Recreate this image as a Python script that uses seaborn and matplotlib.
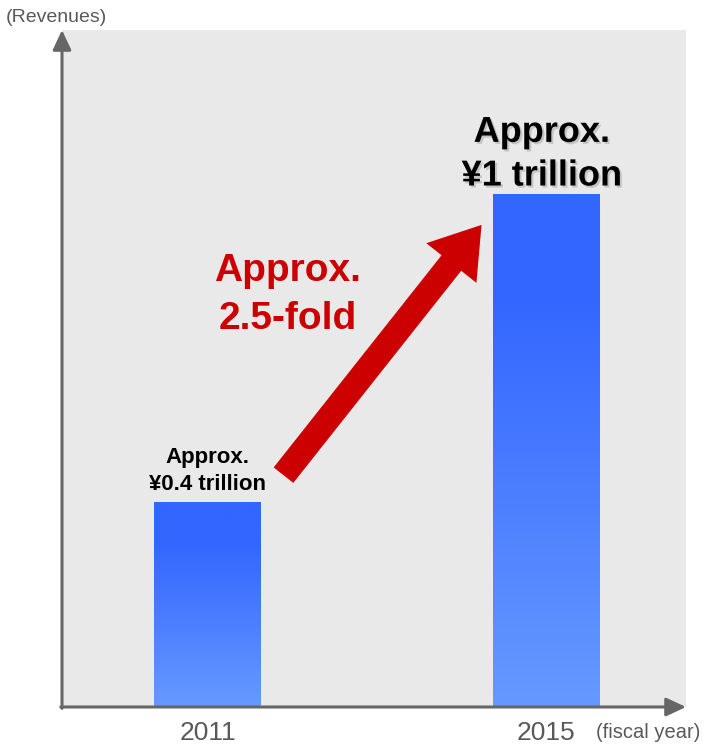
import numpy as np
import pandas as pd
import matplotlib
matplotlib.use("Agg")
import matplotlib.pyplot as plt
import matplotlib.patheffects as pe
from matplotlib.colors import LinearSegmentedColormap
from matplotlib.patches import FancyArrowPatch
import seaborn as sns

# Revenue figures (trillion yen)
years = ["2011", "2015"]
revenues = [0.4, 1.0]
value_labels = ["Approx.\n¥0.4 trillion", "Approx.\n¥1 trillion"]
growth_label = "Approx.\n2.5-fold"
y_axis_label = "(Revenues)"
x_axis_label = "(fiscal year)"

sns.set_theme(style="white", rc={"axes.facecolor": "#E9E9E9"})
plt.rcParams["font.family"] = ["Liberation Sans", "DejaVu Sans"]

AXIS_GRAY = "#666666"
TEXT_GRAY = "#595959"

fig = plt.figure(figsize=(7.05, 7.47), dpi=100)
ax = fig.add_axes([62 / 705, 40 / 747, 624 / 705, 677 / 747])

df = pd.DataFrame({"year": years, "revenue": revenues})
sns.barplot(data=df, x="year", y="revenue", ax=ax, width=0.316,
            color="#3366FF", saturation=1, linewidth=0)

# vertical gradient fill for each bar
grad_cmap = LinearSegmentedColormap.from_list(
    "bar_grad", [(0.0, "#6699FF"), (0.8, "#3366FF"), (1.0, "#3366FF")])
grad = np.linspace(0, 1, 256).reshape(-1, 1)
for patch in ax.patches:
    x0, y0 = patch.get_x(), patch.get_y()
    w, h = patch.get_width(), patch.get_height()
    ax.imshow(grad, cmap=grad_cmap, origin="lower", aspect="auto",
              extent=[x0, x0 + w, y0, y0 + h], zorder=2)
    patch.set_visible(False)
ax.set_xlim(-0.4298, 1.4135)
ax.set_ylim(0, 1.322)

# axes drawn as arrows
for s in ax.spines.values():
    s.set_visible(False)
ax.set_yticks([])
ax.set_ylabel("")
ax.set_xlabel("")
ax.tick_params(axis="x", length=0, pad=10, labelsize=19, labelcolor=TEXT_GRAY)
arrow_kw = dict(arrowstyle="-|>,head_length=0.6,head_width=0.28",
                color=AXIS_GRAY, lw=2.2, mutation_scale=20,
                shrinkA=0, shrinkB=0)
ax.annotate("", xy=(0, 1.0), xytext=(0, -0.002), xycoords="axes fraction",
            arrowprops=arrow_kw, annotation_clip=False)
ax.annotate("", xy=(1.0, 0), xytext=(-0.002, 0), xycoords="axes fraction",
            arrowprops=arrow_kw, annotation_clip=False)

fig.text(6 / 705, 1 - 18 / 747, y_axis_label, fontsize=14, color=TEXT_GRAY,
         ha="left", va="center")
fig.text(596 / 705, 1 - 733 / 747, x_axis_label, fontsize=14.5, color=TEXT_GRAY,
         ha="left", va="center")

# value labels above the bars
pos = list(range(len(years)))
ax.annotate(value_labels[0], xy=(pos[0], revenues[0]), xytext=(0, 5),
            textcoords="offset points", ha="center", va="bottom",
            fontsize=16, fontweight="bold", color="black", linespacing=1.4)
ax.annotate(value_labels[1], xy=(pos[1], revenues[1]), xytext=(-3, 1),
            textcoords="offset points", ha="center", va="bottom",
            fontsize=26, fontweight="bold", color="black", linespacing=1.32,
            path_effects=[pe.SimplePatchShadow(offset=(1.5, -1.5),
                                               shadow_rgbFace="#999999", alpha=0.45),
                          pe.Normal()])

# growth arrow from the first bar to the second
half_w = 0.316 / 2
to_px = ax.transData.transform
to_data = ax.transData.inverted().transform
tail = to_px((pos[0] + half_w, revenues[0])) + np.array([22.5, 27.0])
tip = to_px((pos[1] - half_w, revenues[1])) + np.array([-11.0, -30.0])
growth_arrow = FancyArrowPatch(
    to_data(tail), to_data(tip),
    arrowstyle="simple,head_length=3.5,head_width=4.6,tail_width=1.8",
    mutation_scale=10, color="#CC0000", lw=0, shrinkA=0, shrinkB=0, zorder=3)
ax.add_patch(growth_arrow)

ax.text(0.362, 0.6086, growth_label, transform=ax.transAxes, ha="center",
        va="center", fontsize=28, fontweight="bold", color="#CC0000",
        linespacing=1.45)

fig.savefig("out.png", dpi=100)
